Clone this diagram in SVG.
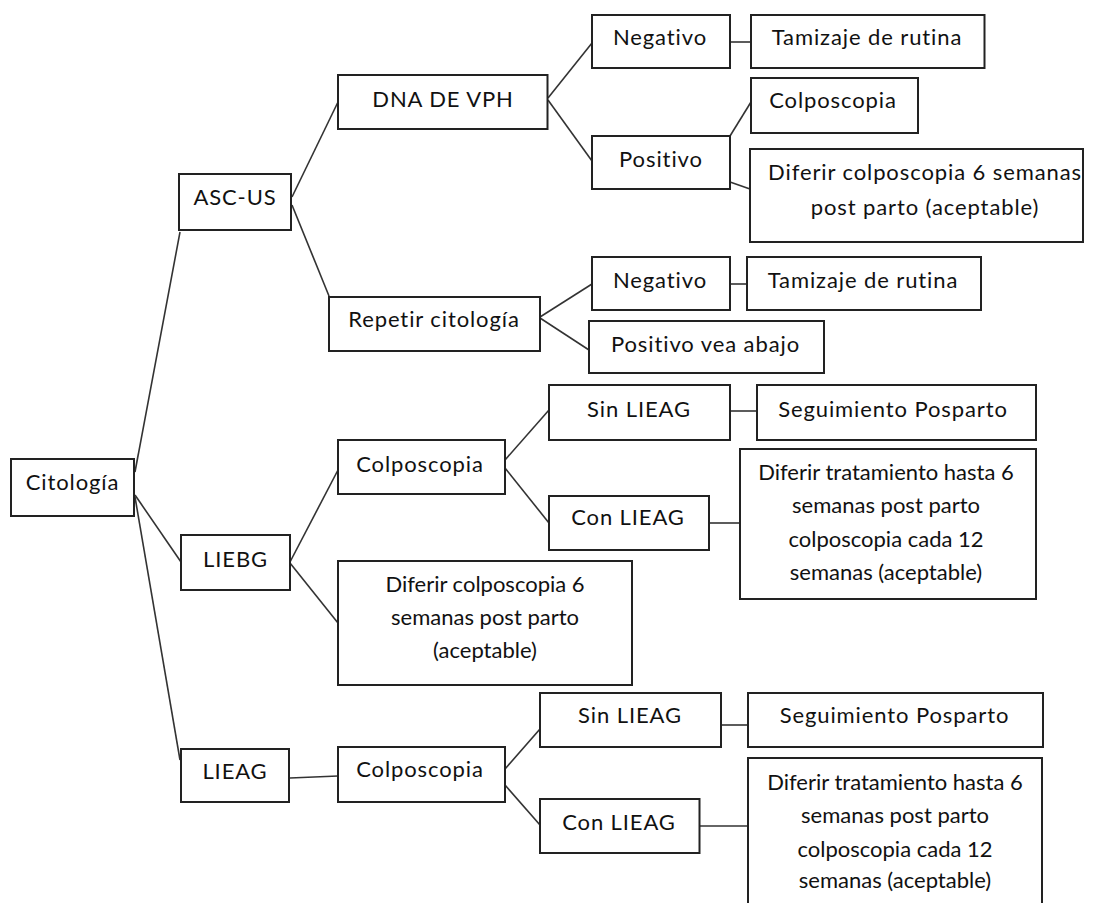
<svg xmlns="http://www.w3.org/2000/svg" width="1094" height="903" viewBox="0 0 1094 903">
<style>
.box{fill:#fff;stroke:#222;stroke-width:2}
.t{font-family:Lato,"Open Sans","Liberation Sans",sans-serif;font-size:22px;fill:#111;text-anchor:middle;letter-spacing:0.9px}
.n{letter-spacing:0}
.c line{stroke:#333;stroke-width:1.6}
</style>
<rect width="1094" height="903" fill="#fff"/>
<g class="c" id="connectors">
<line x1="135" y1="472" x2="180" y2="232"/>
<line x1="135" y1="495" x2="181" y2="562"/>
<line x1="135" y1="497" x2="180" y2="760"/>
<line x1="292" y1="197" x2="338" y2="102"/>
<line x1="292" y1="205" x2="329" y2="296"/>
<line x1="548" y1="98" x2="592" y2="43"/>
<line x1="548" y1="100" x2="592" y2="161"/>
<line x1="730" y1="42" x2="751" y2="42"/>
<line x1="730" y1="136" x2="751" y2="102"/>
<line x1="730" y1="182" x2="750" y2="189"/>
<line x1="540" y1="317" x2="592" y2="284"/>
<line x1="540" y1="318" x2="589" y2="350"/>
<line x1="730" y1="284" x2="747" y2="284"/>
<line x1="290" y1="562" x2="338" y2="470"/>
<line x1="290" y1="563" x2="338" y2="623"/>
<line x1="505" y1="460" x2="549" y2="410"/>
<line x1="505" y1="468" x2="549" y2="523"/>
<line x1="730" y1="411" x2="757" y2="411"/>
<line x1="709" y1="523" x2="740" y2="523"/>
<line x1="290" y1="778" x2="338" y2="776"/>
<line x1="505" y1="769" x2="540" y2="729"/>
<line x1="505" y1="785" x2="540" y2="825"/>
<line x1="721" y1="725" x2="748" y2="725"/>
<line x1="699.5" y1="826" x2="748" y2="826"/>
</g>
<g id="citologia"><rect class="box" x="11" y="459" width="123" height="57"/><text class="t" x="72.5" y="490">Citología</text></g>
<g id="ascus"><rect class="box" x="179" y="174" width="112" height="56"/><text class="t" x="235" y="205">ASC-US</text></g>
<g id="liebg"><rect class="box" x="181" y="535" width="109" height="55"/><text class="t" x="235.5" y="567">LIEBG</text></g>
<g id="lieag"><rect class="box" x="181" y="749" width="108" height="53"/><text class="t" x="235" y="779">LIEAG</text></g>
<g id="dna"><rect class="box" x="338" y="75" width="209.5" height="54"/><text class="t" x="443" y="107">DNA DE VPH</text></g>
<g id="repetir"><rect class="box" x="329" y="297" width="211" height="54"/><text class="t" x="434" y="327">Repetir citología</text></g>
<g id="colpo-liebg"><rect class="box" x="338" y="440" width="167" height="54"/><text class="t" x="420" y="472">Colposcopia</text></g>
<g id="diferir-liebg"><rect class="box" x="338" y="561" width="294" height="124"/><text class="t n" x="485"><tspan x="485" y="592">Diferir colposcopia 6</tspan><tspan x="485" y="625">semanas post parto</tspan><tspan x="485" y="658">(aceptable)</tspan></text></g>
<g id="colpo-lieag"><rect class="box" x="338" y="747" width="167" height="55"/><text class="t" x="420" y="777">Colposcopia</text></g>
<g id="neg1"><rect class="box" x="592" y="15" width="138" height="53"/><text class="t" x="660" y="45">Negativo</text></g>
<g id="tam1"><rect class="box" x="751" y="15" width="233.5" height="53"/><text class="t" x="867" y="45">Tamizaje de rutina</text></g>
<g id="pos1"><rect class="box" x="592" y="136" width="138" height="53"/><text class="t" x="661" y="167">Positivo</text></g>
<g id="colpo-top"><rect class="box" x="751" y="78" width="167" height="55"/><text class="t" x="833" y="108">Colposcopia</text></g>
<g id="diferir-top"><rect class="box" x="750" y="149" width="333" height="93"/><text class="t" x="925"><tspan x="925" y="180">Diferir colposcopia  6 semanas</tspan><tspan x="925" y="215">post parto (aceptable)</tspan></text></g>
<g id="neg2"><rect class="box" x="592" y="257" width="138" height="53"/><text class="t" x="660" y="288">Negativo</text></g>
<g id="tam2"><rect class="box" x="747" y="257" width="234" height="53"/><text class="t" x="863" y="288">Tamizaje de rutina</text></g>
<g id="posvea"><rect class="box" x="589" y="321" width="235" height="52"/><text class="t" x="705.5" y="352">Positivo vea abajo</text></g>
<g id="sin1"><rect class="box" x="549" y="385" width="181" height="55"/><text class="t" x="639" y="417">Sin LIEAG</text></g>
<g id="seg1"><rect class="box" x="757" y="385" width="279" height="55"/><text class="t" x="893" y="417">Seguimiento  Posparto</text></g>
<g id="con1"><rect class="box" x="549" y="496" width="160" height="54"/><text class="t" x="628" y="525">Con LIEAG</text></g>
<g id="diftrat1"><rect class="box" x="740" y="449" width="296" height="150"/><text class="t n" x="886"><tspan x="886" y="480">Diferir tratamiento hasta 6</tspan><tspan x="886" y="513">semanas post parto</tspan><tspan x="886" y="547">colposcopia cada 12</tspan><tspan x="886" y="580">semanas  (aceptable)</tspan></text></g>
<g id="sin2"><rect class="box" x="540" y="693" width="181" height="54"/><text class="t" x="630" y="723">Sin LIEAG</text></g>
<g id="seg2"><rect class="box" x="748" y="693" width="295" height="54"/><text class="t" x="894.5" y="723">Seguimiento  Posparto</text></g>
<g id="con2"><rect class="box" x="540" y="799" width="159.5" height="54"/><text class="t" x="619" y="830">Con LIEAG</text></g>
<g id="diftrat2"><rect class="box" x="748" y="758" width="294" height="160"/><text class="t n" x="895"><tspan x="895" y="790">Diferir tratamiento hasta 6</tspan><tspan x="895" y="823">semanas post parto</tspan><tspan x="895" y="857">colposcopia cada 12</tspan><tspan x="895" y="888">semanas  (aceptable)</tspan></text></g>
</svg>
